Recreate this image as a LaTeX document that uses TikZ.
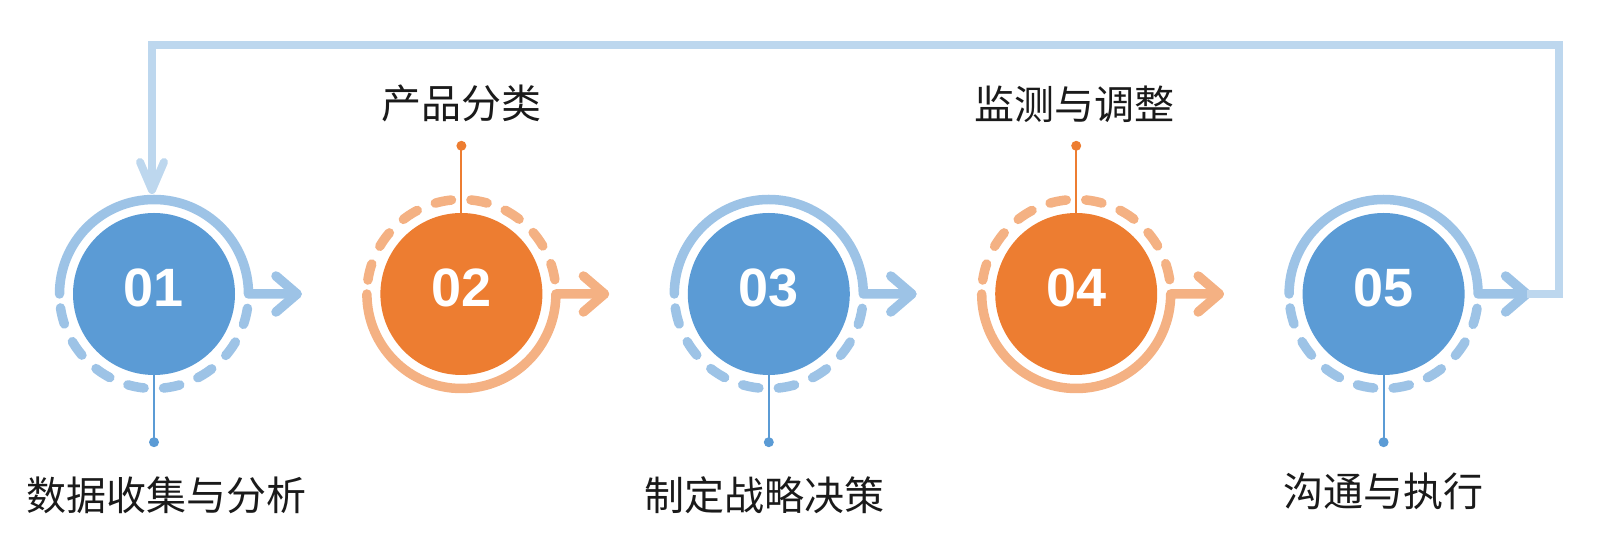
\documentclass[tikz,border=0pt]{standalone}
\usepackage{fontspec}
\newfontfamily\cjk{Noto Sans CJK SC}
\newfontfamily\numfont{Liberation Sans}
\usetikzlibrary{positioning,calc}
\definecolor{Blue}{HTML}{5B9BD5}
\definecolor{LightBlue}{HTML}{9DC3E6}
\definecolor{PaleBlue}{HTML}{BDD7EE}
\definecolor{Orange}{HTML}{ED7D31}
\definecolor{LightOrange}{HTML}{F4B183}
\definecolor{Ink}{HTML}{1A1A1A}
\tikzset{
  disc/.style={circle,minimum size=162pt,inner sep=0pt,text=white,
    font=\numfont\bfseries\fontsize{54}{60}\selectfont,text height=39pt,text depth=13pt},
  ring/.style={line width=9.5pt,line cap=round,line join=round},
  dashring/.style={ring,dash pattern=on 16.5pt off 19.5pt,dash phase=22pt},
  stalk/.style={line width=2pt},
  dot/.style={circle,minimum size=10pt,inner sep=0pt},
  caption/.style={font=\cjk\fontsize{40}{48}\selectfont,text=Ink,inner sep=0pt},
  loopline/.style={line width=8pt,draw=PaleBlue}
}

\begin{document}
\begin{tikzpicture}[x=1pt,y=1pt,node distance=145pt]
  \useasboundingbox (0,0) rectangle (1601,548);
  \node[disc,fill=Blue] (c1) at (154,254) {01};
  \node[disc,fill=Orange,right=of c1] (c2) {02};
  \node[disc,fill=Blue,right=of c2] (c3) {03};
  \node[disc,fill=Orange,right=of c3] (c4) {04};
  \node[disc,fill=Blue,right=of c4] (c5) {05};
  \foreach \i in {1,...,5}
    \coordinate (t\i) at ([xshift=143pt]c\i.center);
  % blue steps: solid arc on top, dashed below
  \foreach \i in {1,3,5}{
    \draw[ring,draw=LightBlue] ([xshift=-94.5pt]c\i.center)
      arc[start angle=180,end angle=0,radius=94.5pt] -- (t\i);
    \draw[dashring,draw=LightBlue] ([xshift=-94.5pt]c\i.center)
      arc[start angle=180,end angle=360,radius=94.5pt];
    \draw[ring,draw=LightBlue] ([shift={(-21pt,18pt)}]t\i) -- (t\i) -- ([shift={(-21pt,-18pt)}]t\i);
  }
  % orange steps: dashed arc on top, solid below
  \foreach \i in {2,4}{
    \draw[ring,draw=LightOrange] ([xshift=-94.5pt]c\i.center)
      arc[start angle=180,end angle=360,radius=94.5pt] -- (t\i);
    \draw[dashring,draw=LightOrange] ([xshift=-94.5pt]c\i.center)
      arc[start angle=180,end angle=0,radius=94.5pt];
    \draw[ring,draw=LightOrange] ([shift={(-21pt,18pt)}]t\i) -- (t\i) -- ([shift={(-21pt,-18pt)}]t\i);
  }
  \node[dot,fill=Blue] (d1) at ([yshift=-67pt]c1.south) {};
  \node[dot,fill=Orange] (d2) at ([yshift=67pt]c2.north) {};
  \node[dot,fill=Blue] (d3) at ([yshift=-67pt]c3.south) {};
  \node[dot,fill=Orange] (d4) at ([yshift=67pt]c4.north) {};
  \node[dot,fill=Blue] (d5) at ([yshift=-67pt]c5.south) {};
  \draw[stalk,draw=Blue] (c1.south) -- (d1.center);
  \draw[stalk,draw=Orange] (c2.north) -- (d2.center);
  \draw[stalk,draw=Blue] (c3.south) -- (d3.center);
  \draw[stalk,draw=Orange] (c4.north) -- (d4.center);
  \draw[stalk,draw=Blue] (c5.south) -- (d5.center);
  \node[caption] (l1) at ([xshift=13pt,yshift=-53pt]d1.center) {数据收集与分析};
  \node[caption] (l2) at ([yshift=42pt]d2.center) {产品分类};
  \node[caption] (l3) at ([xshift=-4pt,yshift=-53pt]d3.center) {制定战略决策};
  \node[caption] (l4) at ([xshift=-2pt,yshift=42pt]d4.center) {监测与调整};
  \node[caption] (l5) at ([yshift=-49pt]d5.center) {沟通与执行};
  % feedback line back to the first step
  \coordinate (back) at ([xshift=-2pt,yshift=104pt]c1.center);
  \draw[loopline] (t5) -- ++(32pt,0) |- ([yshift=145pt]back) -- ([yshift=3pt]back);
  \draw[loopline,line cap=round,line join=round] ([shift={(-12pt,28pt)}]back) -- (back) -- ([shift={(12pt,28pt)}]back);
\end{tikzpicture}
\end{document}
